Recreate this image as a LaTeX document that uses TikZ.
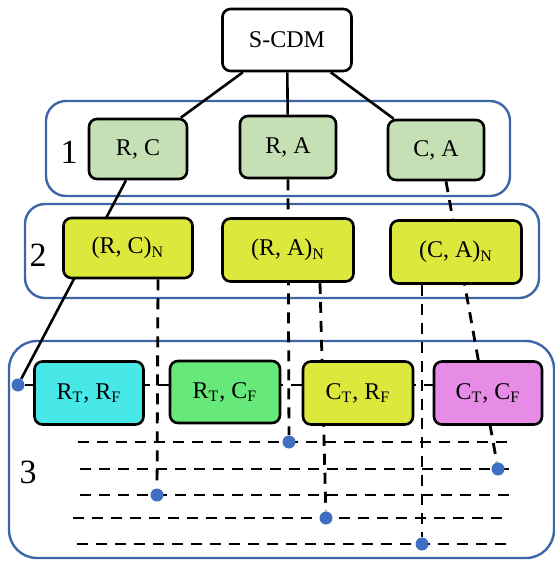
\documentclass[tikz,border=0pt]{standalone}
\usepackage{fontspec}
\setmainfont{Liberation Serif}
\usepackage{tikz}
\usetikzlibrary{positioning, backgrounds}
\usepackage{xcolor}
\definecolor{LevelBlue}{HTML}{3D66A8}
\definecolor{PairGreen}{HTML}{C5E0B4}
\definecolor{PairYellow}{HTML}{DDE83C}
\definecolor{PairCyan}{HTML}{48E8E8}
\definecolor{PairLime}{HTML}{66E87A}
\definecolor{PairPink}{HTML}{E68BE6}
\definecolor{DotBlue}{HTML}{3F6FC0}

\begin{document}
\begin{tikzpicture}[x=0.5pt, y=-0.5pt,
    pairbox/.style={draw, line width=1.3pt, rounded corners=4pt, inner sep=0pt, font=\fontsize{12}{14}\selectfont},
    levelbox/.style={draw=LevelBlue, line width=1.2pt, rounded corners=10pt},
    link/.style={line width=1.3pt},
    dashlink/.style={line width=1.4pt, dash pattern=on 5.5pt off 4pt},
    dotmark/.style={circle, fill=DotBlue, inner sep=0pt, minimum size=6.5pt},
    levellabel/.style={font=\fontsize{17}{20}\selectfont}]
                \useasboundingbox (0,0) rectangle (555,562);

                % Root
                \node[pairbox, fill=white, minimum width=64.5pt, minimum height=31pt] (scdm) at (287,40) {S-CDM};

                % Level 1
                \node[levellabel] (lab1) at (69,152) {1};
                \node[pairbox, fill=PairGreen, minimum width=49pt, minimum height=30pt] (rc) at (138,149) {R, C};
                \node[pairbox, fill=PairGreen, minimum width=48pt, minimum height=31pt] (ra) at (288,147) {R, A};
                \node[pairbox, fill=PairGreen, minimum width=48pt, minimum height=30pt] (ca) at (436,150) {C, A};

                % Level 2
                \node[levellabel] (lab2) at (38,255) {2};
                \node[pairbox, fill=PairYellow, minimum width=64.5pt, minimum height=30pt] (rcn) at (128,248) {(R, C)\textsubscript{N}};
                \node[pairbox, fill=PairYellow, minimum width=65.5pt, minimum height=31.5pt] (ran) at (288,250) {(R, A)\textsubscript{N}};
                \node[pairbox, fill=PairYellow, minimum width=65.5pt, minimum height=31.5pt] (can) at (456,252) {(C, A)\textsubscript{N}};

                % Level 3
                \node[levellabel] (lab3) at (28,472) {3};
                \node[pairbox, fill=PairCyan, minimum width=54.5pt, minimum height=31.5pt] (rtrf) at (89,393) {R\textsubscript{T}, R\textsubscript{F}};
                \node[pairbox, fill=PairLime, minimum width=55pt, minimum height=31pt] (rtcf) at (225,392) {R\textsubscript{T}, C\textsubscript{F}};
                \node[pairbox, fill=PairYellow, minimum width=55pt, minimum height=31.5pt] (ctrf) at (358,393) {C\textsubscript{T}, R\textsubscript{F}};
                \node[pairbox, fill=PairPink, minimum width=54pt, minimum height=31.5pt] (ctcf) at (488,393) {C\textsubscript{T}, C\textsubscript{F}};

                % Dots
                \node[dotmark] (dot0) at (18,385) {};
                \node[dotmark] (dot1) at (289,442) {};
                \node[dotmark] (dot2) at (498,469) {};
                \node[dotmark] (dot3) at (157,495) {};
                \node[dotmark] (dot4) at (326,518) {};
                \node[dotmark] (dot5) at (422,544) {};

                % Rows
                \foreach \i/\y/\xa/\xb in {1/442/78/510, 2/469/80/510, 3/495/80/510, 4/518/73/503, 5/544/77/508} {
                    \coordinate (row\i w) at (\xa,\y);
                    \coordinate (row\i e) at (\xb,\y);
                }

                \begin{pgfonlayer}{background}
                    % Levels
                    \draw[levelbox] (46,101) rectangle (510,196);
                    \draw[levelbox] (25,204) rectangle (539,298);
                    \draw[levelbox, rounded corners=14pt] (9,341) rectangle (554,558);

                    % Links
                    \draw[link] (scdm) -- (rc);
                    \draw[link] (scdm) -- (ra);
                    \draw[link] (scdm) -- (ca);
                    \draw[link] ([xshift=-6pt]rc.south) -- (dot0);
                    \draw[dashlink] (ra.south) -- (dot1);
                    \draw[dashlink] ([xshift=5pt]ca.south) -- (dot2);
                    \draw[dashlink] ([xshift=15pt]rcn.south) -- (dot3);
                    \draw[dashlink] ([xshift=16pt]ran.south) -- (dot4);
                    \draw[dashlink] ([xshift=-17pt]can.south) -- (dot5);
                    \draw[dashlink] (dot0) -- (dot0 -| ctcf.west);
                    \foreach \i in {1,...,5}
                        \draw[dashlink] (row\i w) -- (row\i e);
                \end{pgfonlayer}
            \end{tikzpicture}
\end{document}
